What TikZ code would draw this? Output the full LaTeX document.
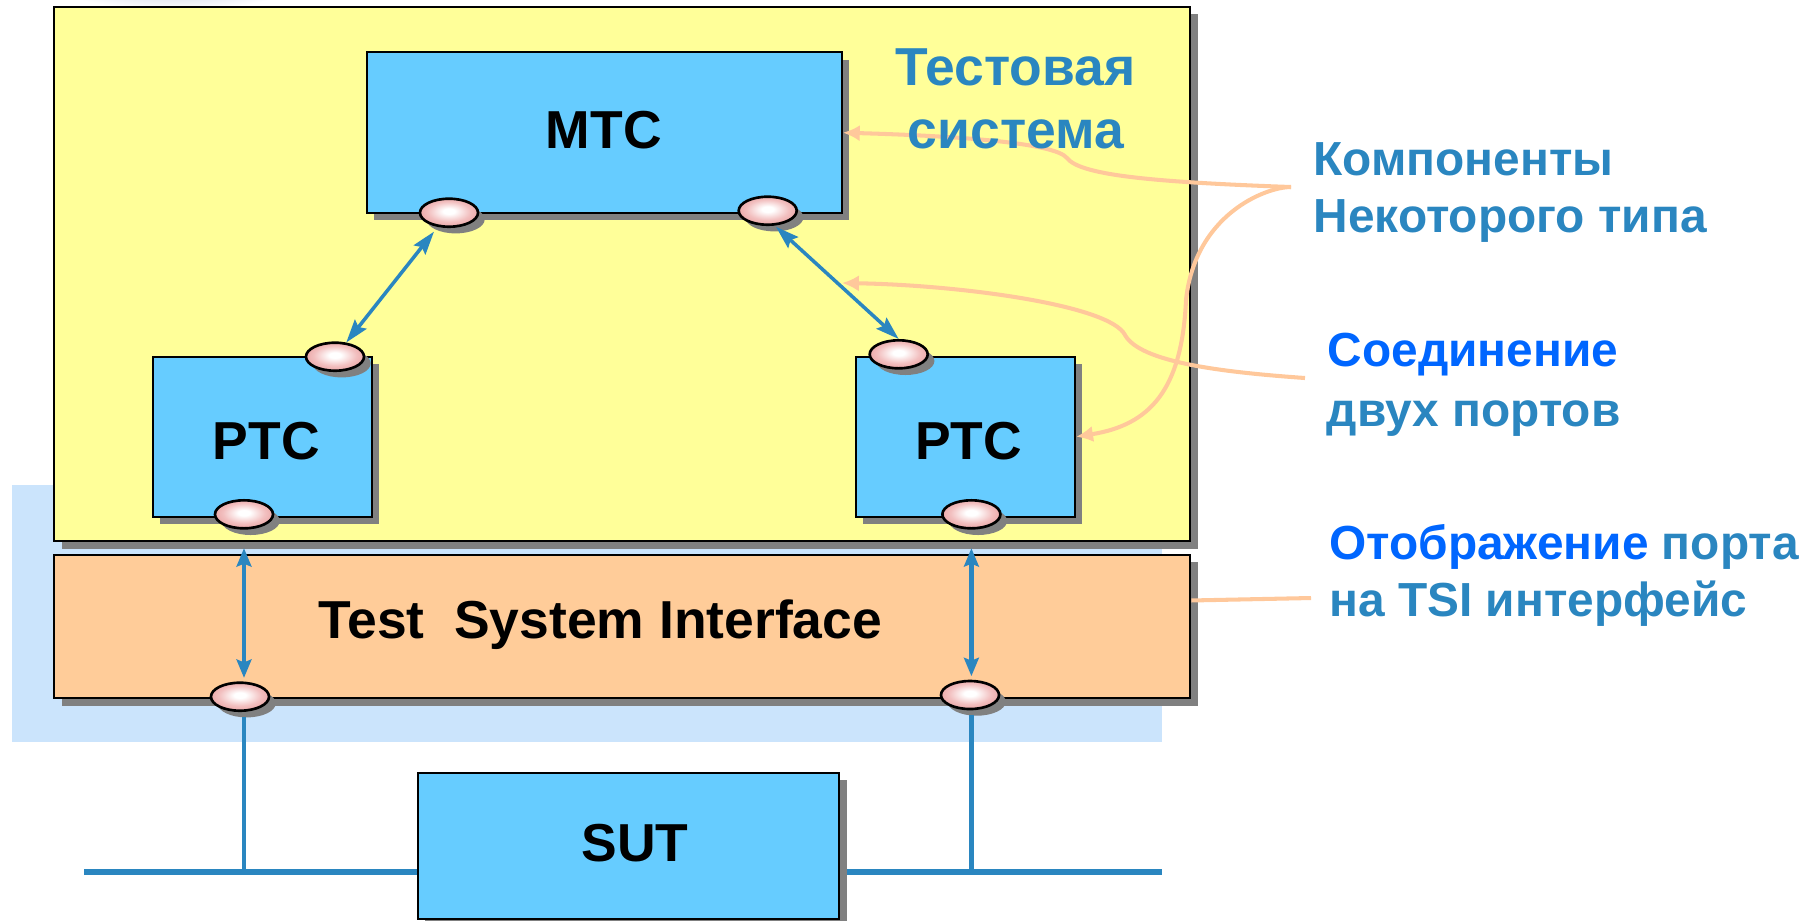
\documentclass[tikz,border=0pt]{standalone}
\usepackage{fontspec}
\setmainfont{Liberation Sans}
\usetikzlibrary{arrows.meta,shapes.geometric,shadows,calc}

\definecolor{sysyellow}{HTML}{FFFF99}
\definecolor{compblue}{HTML}{66CCFF}
\definecolor{tsiorange}{HTML}{FFCC99}
\definecolor{zoneblue}{HTML}{CBE4FC}
\definecolor{linkblue}{HTML}{2A86C0}
\definecolor{brightblue}{HTML}{0066FF}
\definecolor{leader}{HTML}{FFC89B}
\definecolor{portmid}{RGB}{242,192,192}
\definecolor{portpink}{RGB}{230,150,150}
\definecolor{shadowgray}{HTML}{808080}
\definecolor{hazeblue}{RGB}{178,188,214}

\pgfdeclareradialshading{portshade}{\pgfpoint{0bp}{3bp}}{%
  color(0bp)=(white); color(5bp)=(white); color(18bp)=(portmid); color(32bp)=(portpink); color(50bp)=(portpink)}

\begin{document}
\begin{tikzpicture}[x=0.01cm,y=-0.01cm,
  hardshadow/.style={drop shadow={shadow xshift=2.1pt, shadow yshift=-2.1pt,
      fill=shadowgray, opacity=1}},
  box/.style={rectangle, draw=black, line width=0.6pt, inner sep=0pt, hardshadow},
  sysbox/.style={box, fill=sysyellow},
  tsibox/.style={box, fill=tsiorange},
  comp/.style={box, fill=compblue},
  port/.style={ellipse, draw=black, line width=0.75pt, shading=portshade,
      minimum width=0.58cm, minimum height=0.28cm, inner sep=0pt,
      drop shadow={shadow xshift=1.9pt, shadow yshift=-1.9pt, fill=shadowgray, opacity=1}},
  boxlabel/.style={font=\fontsize{15.2}{18}\selectfont\bfseries, text=black,
      inner sep=0pt, anchor=base},
  syslabel/.style={font=\fontsize{15.2}{18}\selectfont\bfseries, text=linkblue,
      inner sep=0pt, anchor=base},
  callout/.style={font=\fontsize{13.6}{16}\selectfont\bfseries, text=linkblue,
      inner sep=0pt, anchor=base west},
  link/.style={draw=linkblue, line width=1pt,
      >={Stealth[length=6.6pt,width=4.2pt,inset=1pt]}, <->},
  tsilink/.style={draw=linkblue, line width=1.2pt,
      >={Stealth[length=5.2pt,width=4.2pt,inset=0.8pt]}, <->},
  dropline/.style={draw=linkblue, line width=1.3pt},
  busline/.style={draw=linkblue, line width=1.6pt},
  leaderline/.style={draw=leader, line width=1.15pt, -{Latex[length=4.8pt,width=4.6pt]}},
  leaderplain/.style={draw=leader, line width=1.15pt}
]
\useasboundingbox (0,0) rectangle (1818,920);

% faint haze at the top edge
\shade[inner color=hazeblue, outer color=white] (175,-26) ellipse [x radius=1.35cm, y radius=0.36cm];

% interface zone behind the test system
\fill[zoneblue] (11.5,485) rectangle (1162,741.7);

% test system and its interface layer
\node[sysbox, minimum width=11.355cm, minimum height=5.34cm] (sys) at (622.25,274) {};
\node[tsibox, minimum width=11.355cm, minimum height=1.433cm] (tsi) at (622.25,626.65) {};

% bus of the system under test
\coordinate (busL) at (84,872);
\coordinate (busR) at (1162,872);
\draw[busline] (busL) -- (busR);
\node[comp, minimum width=4.213cm, minimum height=1.463cm] (sut) at (628.65,845.85) {};

% test components
\node[comp, minimum width=4.747cm, minimum height=1.607cm] (mtc) at (604.35,132.65) {};
\node[comp, minimum width=2.19cm, minimum height=1.6cm] (ptcL) at (262.2,436.7) {};
\node[comp, minimum width=2.193cm, minimum height=1.6cm] (ptcR) at (965.35,436.7) {};

% ports
\node[port] (mtcL)  at (449,212.7) {};
\node[port] (mtcR)  at (767.7,210.7) {};
\node[port] (ptcLt) at (335,356.7) {};
\node[port] (ptcRt) at (898.7,354.3) {};
\node[port] (ptcLb) at (244,514.3) {};
\node[port] (ptcRb) at (971.4,514.3) {};
\node[port] (tsiL)  at (240,696.7) {};
\node[port] (tsiR)  at (970,695) {};

% connections between component ports
\draw[link, shorten <=1.7pt] (mtcL) -- (ptcLt);
\draw[link, shorten <=0.5pt] (mtcR.-65) -- (ptcRt.north);

% port mappings onto the interface
\draw[tsilink, shorten <=1.7pt, shorten >=1pt] (ptcLb.south |- sys.south) -- (ptcLb.south |- tsiL.north);
\draw[tsilink, shorten <=1.7pt, shorten >=1pt] (ptcRb.south |- sys.south) -- (ptcRb.south |- tsiR.north);

% interface ports down to the bus
\draw[dropline, shorten <=1.3pt] (ptcLb.south |- tsiL.south) -- (ptcLb.south |- busL);
\draw[dropline, shorten <=1.3pt] (ptcRb.south |- tsiR.south) -- (ptcRb.south |- busR);

% leader lines of the explanations
\coordinate (kJoin) at (1291,187);
\coordinate (soedJoin) at (1305,378);
\coordinate (linkHit) at (842,283);
\coordinate (tsiJoin) at (1311,598);
\draw[leaderline] (kJoin) .. controls (1150,182) and (1080,175) .. (1067,158)
  .. controls (1055,143) and (960,136) .. (mtc.east);
\draw[leaderline] (kJoin) .. controls (1265,187) and (1195,215) .. (1186,300)
  .. controls (1182,390) and (1150,425) .. (ptcR.east);
\draw[leaderline] (soedJoin) .. controls (1220,372) and (1140,362) .. (1125,335)
  .. controls (1110,305) and (960,285) .. (linkHit);
\draw[leaderplain] (tsiJoin) -- ($(tsi.north east)!0.32!(tsi.south east)$);

% box labels
\node[boxlabel] (tMTC) at (603.8,148.3) {MTC};
\node[boxlabel] (tPTCL) at (266.3,459.3) {PTC};
\node[boxlabel] (tPTCR) at (968.5,459.3) {PTC};
\node[boxlabel, anchor=base west] (tTSI) at (318,638.3) {Test\ \ System Interface};
\node[boxlabel] (tSUT) at (635,861) {SUT};

% title of the test system
\node[syslabel] (tSys1) at (1015.6,85) {Тестовая};
\node[syslabel] (tSys2) at (1016,148.3) {система};

% explanations
\node[callout] (cK1) at (1313,175.7) {Компоненты};
\node[callout] (cK2) at (1313,232) {Некоторого типа};
\node[callout, text=brightblue] (cS1) at (1327,366) {Соединение};
\node[callout] (cS2) at (1326,426) {двух портов};
\node[callout] (cO1) at (1328.6,559) {\textcolor{brightblue}{Отображение} порта};
\node[callout] (cO2) at (1328.6,616) {на TSI интерфейс};
\end{tikzpicture}
\end{document}
